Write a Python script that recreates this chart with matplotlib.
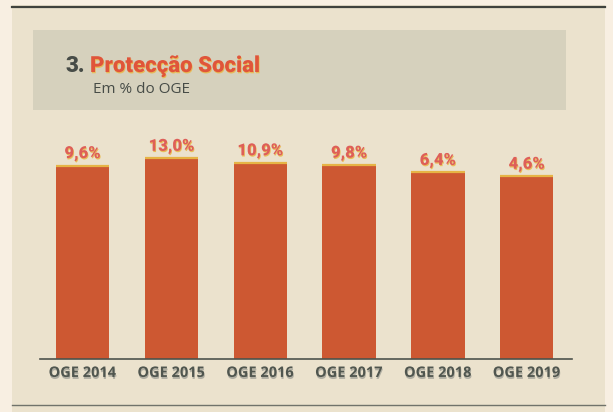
import matplotlib
matplotlib.use("Agg")
import matplotlib.pyplot as plt
import matplotlib.patheffects as pe
from matplotlib.patches import Rectangle
import numpy as np

# Data
categories = ["OGE 2014", "OGE 2015", "OGE 2016", "OGE 2017", "OGE 2018", "OGE 2019"]
values = [9.6, 13.0, 10.9, 9.8, 6.4, 4.6]
value_labels = ["9,6%", "13,0%", "10,9%", "9,8%", "6,4%", "4,6%"]

W, H = 613, 412
fig = plt.figure(figsize=(W / 100, H / 100), dpi=100)
fig.patch.set_facecolor("#f8efe2")


def box(x0, y0, x1, y1, **kw):
    """Rectangle in pixel coordinates measured from the top-left corner."""
    fig.add_artist(Rectangle((x0 / W, 1 - y1 / H), (x1 - x0) / W, (y1 - y0) / H,
                             transform=fig.transFigure, **kw))


def hline(y, x0, x1, **kw):
    fig.add_artist(plt.Line2D([x0 / W, x1 / W], [1 - y / H, 1 - y / H],
                              transform=fig.transFigure, **kw))


# Page and header panel
box(12, 5, 605, 412, facecolor="#ebe2cd", edgecolor="none", zorder=0)
box(33, 30, 566, 110, facecolor="#d6d1bd", edgecolor="none", zorder=1)
hline(6.5, 12, 605, color="#3f423d", lw=1.6, zorder=2)
hline(405, 12, 605, color="#70736b", lw=1.0, zorder=2)

gold_shadow = [pe.withSimplePatchShadow(offset=(0.5, -0.9), shadow_rgbFace="#e9b94c", alpha=0.9)]
grey_shadow = [pe.withSimplePatchShadow(offset=(0.4, -1.4), shadow_rgbFace="#8a8c86", alpha=0.6)]

fig.text(66 / W, 1 - 72 / H, "3.", family="Roboto", weight="black", fontsize=16,
         color="#474c47", va="baseline", ha="left", zorder=3)
fig.text(90 / W, 1 - 72 / H, "Protecção Social", family="Roboto", weight="black",
         fontsize=16, color="#e0553a", va="baseline", ha="left", zorder=3,
         path_effects=gold_shadow)
fig.text(93 / W, 1 - 93 / H, "Em % do OGE", family="Open Sans", fontsize=11,
         color="#474c47", va="baseline", ha="left", zorder=3)

# Bar chart (value axis starts below zero, as printed)
base = -80.8
ax = fig.add_axes([40 / W, (H - 359) / H, (572 - 40) / W, 229 / H])
ax.set_facecolor("none")
ax.set_zorder(4)
x = np.arange(len(categories))
vals = np.array(values)
bar_w = 0.6
ax.bar(x, vals - base, bottom=base, width=bar_w, color="#cd5832", edgecolor="none", zorder=2)
ax.hlines(vals, x - bar_w / 2, x + bar_w / 2, color="#e6b445", lw=1.6, zorder=3)

for xi, v, lbl in zip(x, vals, value_labels):
    ax.annotate(lbl, (xi, v), xytext=(0, 3), textcoords="offset points",
                ha="center", va="bottom", family="Roboto", weight="black",
                fontsize=12, color="#de5f58", path_effects=gold_shadow, zorder=4)

ax.set_xlim(-0.479, 5.51)
ax.set_ylim(base, base + 107)
ax.set_xticks(x, categories)
ax.set_yticks([])
for s in ("left", "right", "top"):
    ax.spines[s].set_visible(False)
ax.spines["bottom"].set_color("#4d524c")
ax.spines["bottom"].set_linewidth(1.2)
ax.tick_params(axis="x", length=0, pad=5)
for t in ax.get_xticklabels():
    t.set_family("Open Sans")
    t.set_weight("bold")
    t.set_fontsize(10.5)
    t.set_color("#50564f")
    t.set_path_effects(grey_shadow)

fig.savefig("out.png", dpi=100, facecolor=fig.get_facecolor())
